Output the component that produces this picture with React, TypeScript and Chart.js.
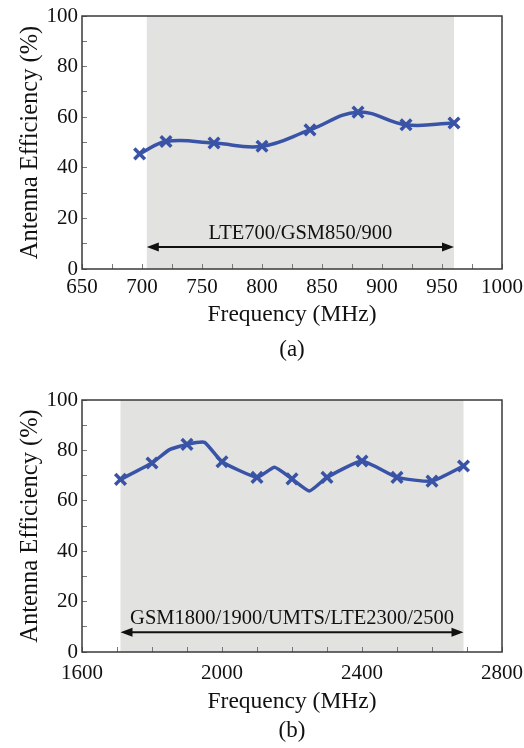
import React, { useEffect, useRef } from "react";
import { Chart, registerables } from "chart.js";

Chart.register(...registerables);

const FONT = "'Liberation Serif', 'Times New Roman', serif";
const BLUE = "#3953a6";
const TEXT = "#111111";

// ---------- Panel (a) ----------
const freqA = [698, 720, 760, 800, 840, 880, 920, 960];
const effA = [45.5, 50.4, 49.8, 48.5, 55.0, 62.0, 57.0, 57.7];
const markedA = [698, 720, 760, 800, 840, 880, 920, 960];
const bandA = [704, 960];
const arrowYA = 8.7;
const labelYA = 13.8;
const bandLabelA = "LTE700/GSM850/900";
const xRangeA = [650, 1000];
const xStepA = 25;
const xLabelStepA = 50;
const captionA = "(a)";

// ---------- Panel (b) ----------
const freqB = [1710, 1800, 1850, 1900, 1950, 2000, 2100, 2150, 2200, 2250, 2300, 2400, 2500, 2600, 2690];
const effB = [68.5, 75.0, 80.3, 82.4, 83.2, 75.5, 69.3, 73.3, 68.7, 63.9, 69.3, 75.8, 69.3, 67.8, 73.8];
const markedB = [1710, 1800, 1900, 2000, 2100, 2200, 2300, 2400, 2500, 2600, 2690];
const bandB = [1710, 2690];
const arrowYB = 7.8;
const labelYB = 13.4;
const bandLabelB = "GSM1800/1900/UMTS/LTE2300/2500";
const xRangeB = [1600, 2800];
const xStepB = 100;
const xLabelStepB = 400;
const captionB = "(b)";

// ---------- shared axis text ----------
const yRange = [0, 100];
const yStep = 10;
const yLabelStep = 20;
const xTitle = "Frequency (MHz)";
const yTitle = "Antenna Efficiency (%)";

type Panel = {
  freq: number[];
  eff: number[];
  marked: number[];
  band: number[];
  arrowY: number;
  labelY: number;
  bandLabel: string;
  xRange: number[];
  xStep: number;
  xLabelStep: number;
  caption: string;
  tension: number;
  width: number;
  height: number;
  padTop: number;
  padBottom: number;
  xAxisHeight: number;
  xTickPad: number;
  captionPadTop: number;
};

const panelA: Panel = {
  freq: freqA, eff: effA, marked: markedA, band: bandA, arrowY: arrowYA, labelY: labelYA,
  bandLabel: bandLabelA, xRange: xRangeA, xStep: xStepA, xLabelStep: xLabelStepA, caption: captionA,
  tension: 0.4, width: 524, height: 370, padTop: 16, padBottom: 6.2, xAxisHeight: 61, xTickPad: 10.4, captionPadTop: 6.2,
};

const panelB: Panel = {
  freq: freqB, eff: effB, marked: markedB, band: bandB, arrowY: arrowYB, labelY: labelYB,
  bandLabel: bandLabelB, xRange: xRangeB, xStep: xStepB, xLabelStep: xLabelStepB, caption: captionB,
  tension: 0.15, width: 524, height: 378, padTop: 30, padBottom: 3.4, xAxisHeight: 65, xTickPad: 13.4, captionPadTop: 0,
};

function bandPlugin(p: Panel) {
  return {
    id: "bandAndArrow",
    beforeDraw(chart: any) {
      const { ctx, chartArea, scales } = chart;
      const x1 = scales.x.getPixelForValue(p.band[0]);
      const x2 = scales.x.getPixelForValue(p.band[1]);
      ctx.save();
      ctx.fillStyle = "#e2e2e0";
      ctx.fillRect(x1, chartArea.top, x2 - x1, chartArea.bottom - chartArea.top);
      ctx.restore();
    },
    afterDraw(chart: any) {
      const { ctx, chartArea, scales } = chart;
      const x1 = scales.x.getPixelForValue(p.band[0]);
      const x2 = scales.x.getPixelForValue(p.band[1]);
      const y = scales.y.getPixelForValue(p.arrowY);
      const head = 12;
      const half = 4.5;
      ctx.save();
      ctx.strokeStyle = TEXT;
      ctx.fillStyle = TEXT;
      ctx.lineWidth = 2;
      ctx.beginPath();
      ctx.moveTo(x1 + head - 2, y);
      ctx.lineTo(x2 - head + 2, y);
      ctx.stroke();
      ctx.beginPath();
      ctx.moveTo(x1, y);
      ctx.lineTo(x1 + head, y - half);
      ctx.lineTo(x1 + head, y + half);
      ctx.closePath();
      ctx.fill();
      ctx.beginPath();
      ctx.moveTo(x2, y);
      ctx.lineTo(x2 - head, y - half);
      ctx.lineTo(x2 - head, y + half);
      ctx.closePath();
      ctx.fill();
      // band label
      ctx.font = `20.5px ${FONT}`;
      ctx.textAlign = "center";
      ctx.textBaseline = "middle";
      ctx.fillText(p.bandLabel, (x1 + x2) / 2, scales.y.getPixelForValue(p.labelY));
      // frame
      ctx.strokeStyle = "#3a3a3a";
      ctx.lineWidth = 1.5;
      ctx.strokeRect(chartArea.left, chartArea.top, chartArea.right - chartArea.left, chartArea.bottom - chartArea.top);
      ctx.restore();
    },
  };
}

function buildConfig(p: Panel): any {
  const linePts = p.freq.map((f, i) => ({ x: f, y: p.eff[i] }));
  const markPts = p.freq
    .map((f, i) => ({ x: f, y: p.eff[i] }))
    .filter((pt) => p.marked.includes(pt.x));
  return {
    type: "line",
    data: {
      datasets: [
        {
          data: linePts,
          borderColor: BLUE,
          borderWidth: 3.5,
          tension: p.tension,
          pointRadius: 0,
          fill: false,
        },
        {
          data: markPts,
          showLine: false,
          pointStyle: "crossRot",
          pointRadius: 7.5,
          pointBorderWidth: 3.5,
          borderColor: BLUE,
          backgroundColor: BLUE,
        },
      ],
    },
    options: {
      responsive: false,
      animation: false,
      events: [],
      layout: { padding: { top: p.padTop, left: 0, right: 22, bottom: p.padBottom } },
      plugins: {
        legend: { display: false },
        tooltip: { enabled: false },
        title: {
          display: true,
          position: "bottom",
          fullSize: false,
          text: p.caption,
          color: TEXT,
          font: { family: FONT, size: 23, weight: "normal", lineHeight: 1.2 },
          padding: { top: p.captionPadTop, bottom: 0 },
        },
      },
      scales: {
        x: {
          type: "linear",
          min: p.xRange[0],
          max: p.xRange[1],
          ticks: {
            stepSize: p.xStep,
            autoSkip: false,
            maxRotation: 0,
            padding: p.xTickPad,
            color: TEXT,
            font: { family: FONT, size: 21, lineHeight: 1.2 },
            callback: (v: number) => (v % p.xLabelStep === 0 ? String(v) : ""),
          },
          grid: { drawOnChartArea: false, drawTicks: true, tickLength: -5, tickColor: "#777", tickWidth: 1 },
          border: { display: false },
          title: {
            display: true,
            text: xTitle,
            color: TEXT,
            font: { family: FONT, size: 23.5, lineHeight: 1.2 },
            padding: { top: 0, bottom: 1 },
          },
          afterFit: (s: any) => {
            s.height = p.xAxisHeight;
            s.paddingLeft = 0;
            s.paddingRight = 0;
          },
        },
        y: {
          type: "linear",
          min: yRange[0],
          max: yRange[1],
          ticks: {
            stepSize: yStep,
            autoSkip: false,
            padding: 9,
            color: TEXT,
            font: { family: FONT, size: 21, lineHeight: 1.2 },
            callback: (v: number) => (v % yLabelStep === 0 ? String(v) : ""),
          },
          grid: { drawOnChartArea: false, drawTicks: true, tickLength: -5, tickColor: "#777", tickWidth: 1 },
          border: { display: false },
          title: {
            display: true,
            text: yTitle,
            color: TEXT,
            font: { family: FONT, size: 24.5, lineHeight: 1.2 },
            padding: { top: 16, bottom: 0 },
          },
          afterFit: (s: any) => {
            s.width = 82;
            s.paddingTop = 0;
            s.paddingBottom = 0;
          },
        },
      },
    },
    plugins: [bandPlugin(p)],
  };
}

function PanelChart({ panel }: { panel: Panel }) {
  const ref = useRef<HTMLCanvasElement | null>(null);
  useEffect(() => {
    if (!ref.current) return;
    const chart = new Chart(ref.current, buildConfig(panel));
    return () => chart.destroy();
  }, [panel]);
  return (
    <canvas
      ref={ref}
      width={panel.width}
      height={panel.height}
      style={{ display: "block", width: panel.width, height: panel.height }}
    />
  );
}

export default function App() {
  useEffect(() => {
    document.body.style.margin = "0";
    document.body.style.background = "#ffffff";
  }, []);
  return (
    <div style={{ width: 524, height: 748, background: "#fff", overflow: "hidden" }}>
      <PanelChart panel={panelA} />
      <PanelChart panel={panelB} />
    </div>
  );
}
